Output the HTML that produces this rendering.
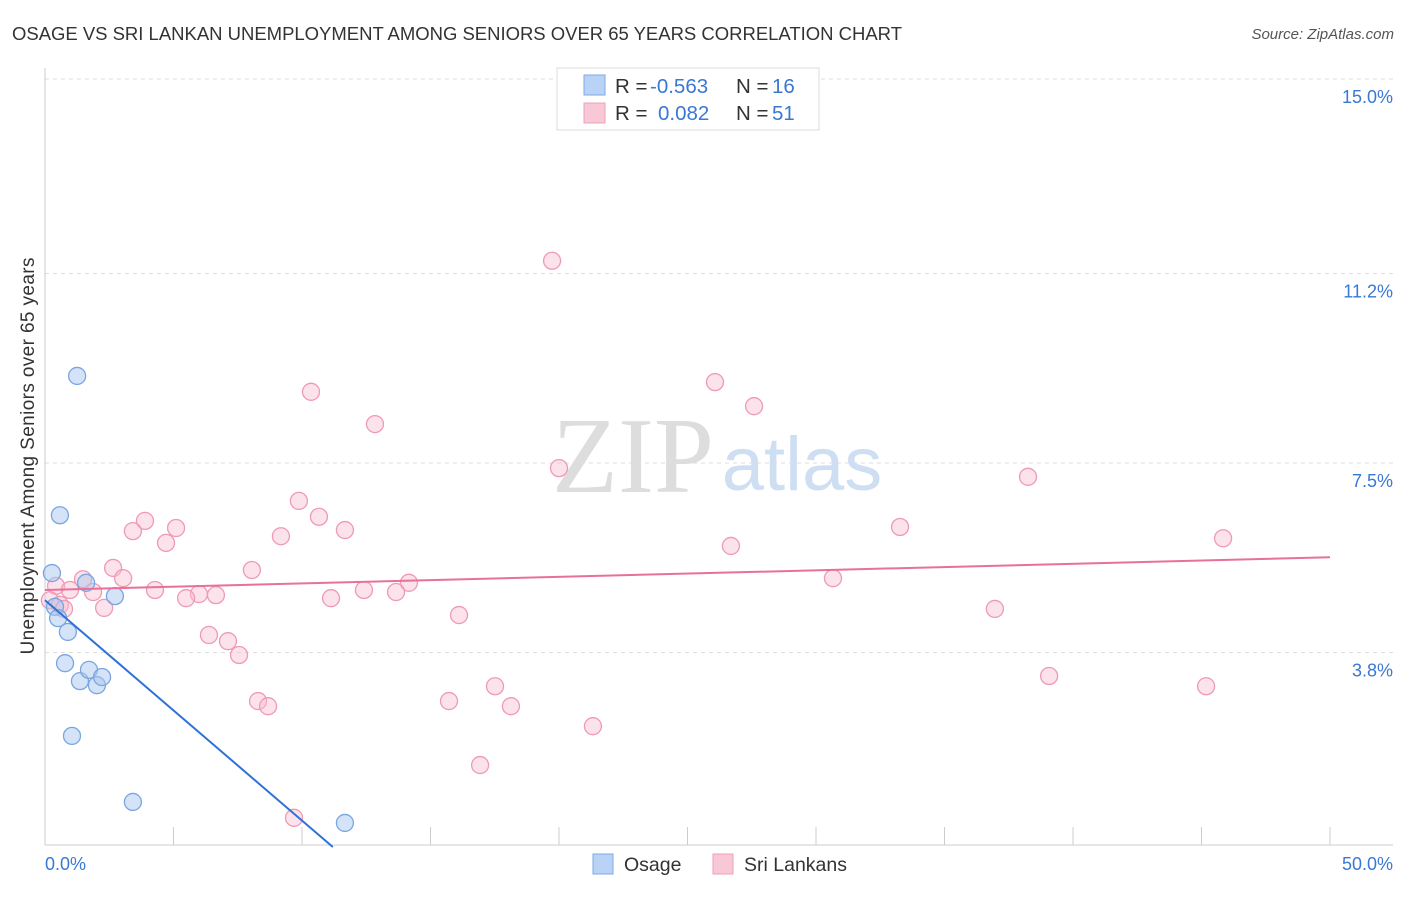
<!DOCTYPE html>
<html><head><meta charset="utf-8"><style>
body{margin:0;background:#fff;font-family:"Liberation Sans",sans-serif;}
svg text{font-family:"Liberation Sans",sans-serif;}
</style></head><body>
<svg id="chart" width="1406" height="892">
<text x="12" y="40" font-size="18.5" fill="#333" textLength="890">OSAGE VS SRI LANKAN UNEMPLOYMENT AMONG SENIORS OVER 65 YEARS CORRELATION CHART</text>
<text x="1394" y="39" font-size="15" fill="#555" text-anchor="end" font-style="italic">Source: ZipAtlas.com</text>
<text x="633" y="492" font-size="108" fill="#ddd" text-anchor="middle" style="font-family:'Liberation Serif',serif">ZIP</text>
<text x="802" y="490" font-size="76" fill="#cfdff3" text-anchor="middle">atlas</text>
<text transform="translate(34,456) rotate(-90)" font-size="19" fill="#333" text-anchor="middle" textLength="397">Unemployment Among Seniors over 65 years</text>
<g id="grid"></g><g id="axes"></g><g id="marks"></g>
<g>
<rect x="557" y="68" width="262" height="62" fill="#fff" stroke="#ddd"/>
<rect x="584" y="75" width="21" height="20" fill="#b8d3f5" stroke="#7fa9e2"/>
<rect x="584" y="103" width="21" height="20" fill="#f9c8d6" stroke="#f0a0b8"/>
<text x="615" y="93" font-size="20.5" fill="#333">R = <tspan x="650" fill="#3a78d4">-0.563</tspan><tspan x="736">N = </tspan><tspan x="772" fill="#3a78d4">16</tspan></text>
<text x="615" y="120" font-size="20.5" fill="#333">R = <tspan x="658" fill="#3a78d4">0.082</tspan><tspan x="736">N = </tspan><tspan x="772" fill="#3a78d4">51</tspan></text>
</g>
<g>
<rect x="593" y="854" width="20" height="20" fill="#b8d3f5" stroke="#7fa9e2"/>
<text x="624" y="871" font-size="19.5" fill="#333">Osage</text>
<rect x="713" y="854" width="20" height="20" fill="#f9c8d6" stroke="#f0a0b8"/>
<text x="744" y="871" font-size="19.5" fill="#333">Sri Lankans</text>
</g>
</svg>
<script>
const yTicks=[3.8,7.5,11.2,15.0];
const yTickLabels=["3.8%","7.5%","11.2%","15.0%"];
const xTickVals=[0,5,10,15,20,25,30,35,40,45,50];
const osageX=[0.27,0.39,0.58,1.25,0.51,0.89,1.60,2.72,0.78,1.36,1.71,2.02,2.22,1.05,3.42,11.67];
const osageY=[5.35,4.69,6.48,9.20,4.47,4.20,5.16,4.90,3.59,3.24,3.46,3.16,3.32,2.17,0.88,0.47];
const sriX=[19.73,26.07,10.35,27.59,12.84,20.00,38.25,9.88,10.66,3.89,5.10,3.42,11.67,9.18,33.27,4.71,26.69,45.84,2.65,8.05,3.04,30.66,1.48,14.16,0.43,0.97,4.28,12.41,13.66,1.87,5.99,6.65,5.49,11.13,0.19,0.58,0.74,2.30,36.96,16.11,6.38,7.12,7.55,39.07,17.51,45.18,15.72,8.29,8.68,18.13,21.32,16.93,9.69];
const sriY=[11.45,9.08,8.89,8.61,8.26,7.40,7.23,6.76,6.45,6.37,6.23,6.17,6.19,6.07,6.25,5.94,5.88,6.03,5.45,5.41,5.25,5.25,5.23,5.16,5.10,5.02,5.02,5.02,4.98,4.98,4.94,4.92,4.86,4.86,4.82,4.73,4.65,4.67,4.65,4.53,4.14,4.02,3.75,3.34,3.14,3.14,2.85,2.85,2.75,2.75,2.36,1.60,0.57];
const osageTrend=[[0,4.82],[11.2,0]];
const sriTrend=[[0,5.02],[50,5.66]];
const NS="http://www.w3.org/2000/svg";
const sx=v=>45+v/50*1285;
const sy=v=>847-v/3.75*192;
function mk(t,a,p){const e=document.createElementNS(NS,t);for(const k in a)e.setAttribute(k,a[k]);p.appendChild(e);return e;}
const grid=document.getElementById('grid'),axes=document.getElementById('axes'),marks=document.getElementById('marks');
yTicks.forEach((v,i)=>{
 const l=mk('line',{x1:45,x2:1393,y1:sy(v),y2:sy(v),stroke:'#ddd','stroke-dasharray':'4,4'},grid);
 
 
 const t=mk('text',{x:1393,y:sy(v)+24,'font-size':18,fill:'#3a78d4','text-anchor':'end'},axes);
 t.textContent=yTickLabels[i];
 
 
});
const ax=mk('line',{x1:45,x2:45,y1:68,y2:845,stroke:'#ccc'},axes);


const bx=mk('line',{x1:45,x2:1393,y1:845,y2:845,stroke:'#ccc'},axes);


xTickVals.forEach(v=>{
 const l=mk('line',{x1:sx(v),x2:sx(v),y1:827,y2:845,stroke:'#ccc'},axes);
 
 
});
const x0=mk('text',{x:45,y:870,'font-size':18,fill:'#3a78d4'},axes);x0.textContent='0.0%';


const x1=mk('text',{x:1393,y:870,'font-size':18,fill:'#3a78d4','text-anchor':'end'},axes);x1.textContent='50.0%';


sriX.forEach((v,i)=>{
 const c=mk('circle',{cx:sx(v),cy:sy(sriY[i]),r:8.5,fill:'rgba(248,190,208,0.45)',stroke:'#ef9ab4','stroke-width':1.3},marks);
 
 
});
osageX.forEach((v,i)=>{
 const c=mk('circle',{cx:sx(v),cy:sy(osageY[i]),r:8.5,fill:'rgba(170,200,240,0.5)',stroke:'#7aa6e0','stroke-width':1.3},marks);
 
 
});
const t1=mk('line',{x1:sx(osageTrend[0][0]),y1:sy(osageTrend[0][1]),x2:sx(osageTrend[1][0]),y2:sy(osageTrend[1][1]),stroke:'#2e72d6','stroke-width':2},marks);


const t2=mk('line',{x1:sx(sriTrend[0][0]),y1:sy(sriTrend[0][1]),x2:sx(sriTrend[1][0]),y2:sy(sriTrend[1][1]),stroke:'#e8709a','stroke-width':2},marks);


</script>
</body></html>
